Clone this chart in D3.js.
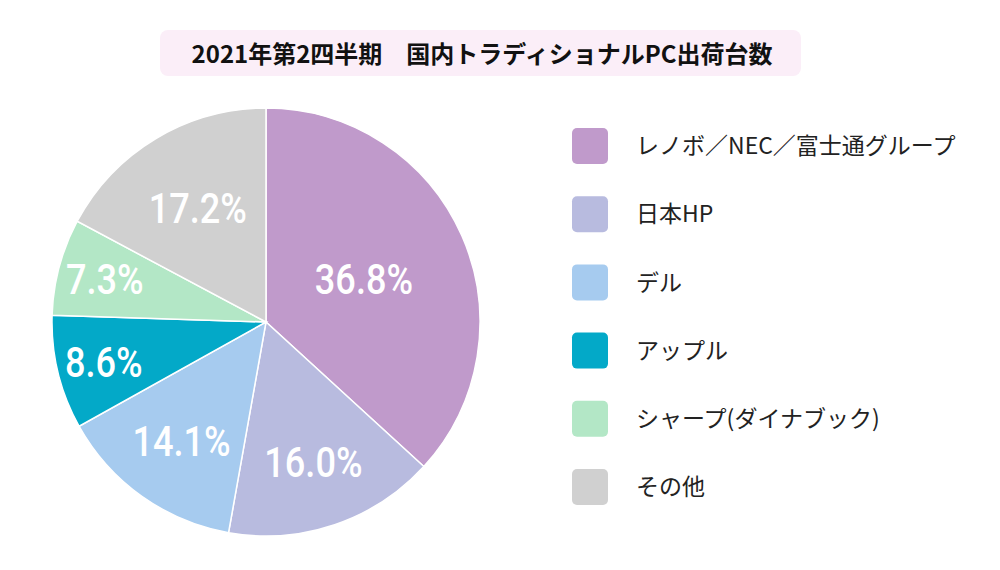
<!DOCTYPE html>
<html>
<head>
<meta charset="utf-8">
<script src="https://cdn.jsdelivr.net/npm/d3@7"></script>
<style>
  body { margin: 0; background: #fff; }
  text { font-family: "Noto Sans CJK JP", "Noto Sans", sans-serif; }
  text.pct { font-family: Roboto, "Noto Sans", sans-serif; }
</style>
</head>
<body>
<div id="chart"></div>
<script>
// Data
const titleText = "2021年第2四半期\u3000国内トラディショナルPC出荷台数";
const vendors = ["レノボ／NEC／富士通グループ", "日本HP", "デル", "アップル", "シャープ(ダイナブック)", "その他"];
const shares = [36.8, 16.0, 14.1, 8.6, 7.3, 17.2];
const colors = ["#c09acb", "#b8bbdf", "#a6cbef", "#03a9c8", "#b3e7c6", "#d0d0d0"];
// label distance from centre as a fraction of the radius (best-fit placement)
const labelRadius = [0.5, 0.69, 0.68, 0.78, 0.78, 0.62];

const width = 1000, height = 570;
const cx = 266, cy = 322, radius = 214;

const svg = d3.select("#chart")
    .append("svg")
    .attr("width", width)
    .attr("height", height);

// Title box
svg.append("rect")
    .attr("x", 160)
    .attr("y", 30)
    .attr("width", 641)
    .attr("height", 46)
    .attr("rx", 8)
    .attr("fill", "#fbeef8");

svg.append("text")
    .attr("x", 482)
    .attr("y", 63)
    .attr("text-anchor", "middle")
    .style("font-size", "24px")
    .style("font-weight", "bold")
    .style("fill", "#111")
    .text(titleText);

// Pie
const pie = d3.pie().sort(null).value(d => d);
const arcs = pie(shares);
const arc = d3.arc().innerRadius(0).outerRadius(radius);

const g = svg.append("g")
    .attr("transform", `translate(${cx},${cy})`);

g.selectAll(".slice")
    .data(arcs)
    .enter()
    .append("path")
    .attr("class", "slice")
    .attr("d", arc)
    .attr("fill", (d, i) => colors[i])
    .attr("stroke", "#fff")
    .attr("stroke-width", 1.5);

// narrow-looking percentage labels
g.selectAll(".pct")
    .data(arcs)
    .enter()
    .append("text")
    .attr("class", "pct")
    .attr("transform", (d, i) => {
        const r = radius * labelRadius[i];
        const c = d3.arc().innerRadius(r).outerRadius(r).centroid(d);
        return `translate(${c[0]},${c[1]}) scale(0.86,1)`;
    })
    .attr("text-anchor", "middle")
    .attr("dy", "0.36em")
    .style("font-size", "42px")
    .style("font-weight", "500")
    .style("fill", "#fff")
    .text(d => d.data.toFixed(1) + "%");

// Legend
const legendY = d3.scalePoint()
    .domain(vendors)
    .range([146, 487]);

const legend = svg.append("g");

legend.selectAll("rect")
    .data(vendors)
    .enter()
    .append("rect")
    .attr("x", 572)
    .attr("y", d => legendY(d) - 18)
    .attr("width", 36)
    .attr("height", 36)
    .attr("rx", 5)
    .attr("fill", (d, i) => colors[i]);

legend.selectAll("text")
    .data(vendors)
    .enter()
    .append("text")
    .attr("x", 636)
    .attr("y", d => legendY(d))
    .attr("dy", "0.36em")
    .style("font-size", "23px")
    .style("fill", "#222")
    .text(d => d);
</script>
</body>
</html>
